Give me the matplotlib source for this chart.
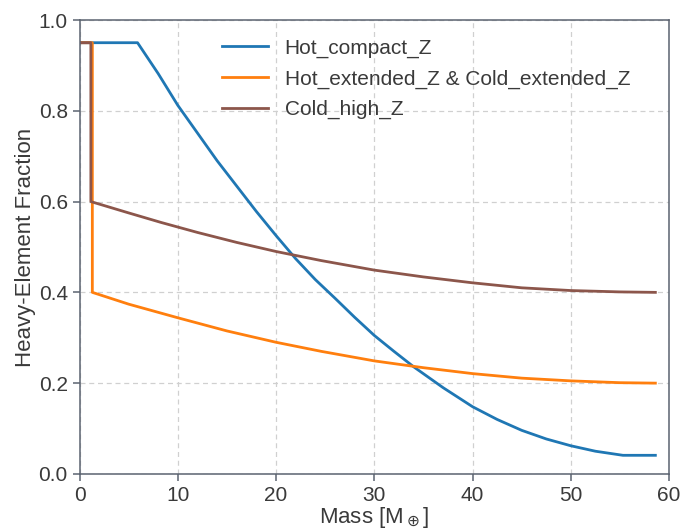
import numpy as np
import matplotlib.pyplot as plt

plt.rcParams["font.family"] = ["Liberation Sans", "DejaVu Sans"]

# masses (Earth masses) and heavy-element fractions
mass_hot_compact = [0.0, 5.9, 8.0, 10.0, 12.0, 14.0, 16.0, 18.0, 20.0, 22.0, 24.0,
                    26.0, 28.0, 30.0, 32.0, 34.0, 37.0, 40.0, 42.5, 45.0, 47.5,
                    50.0, 52.5, 55.3, 58.6]
z_hot_compact = [0.95, 0.95, 0.882, 0.812, 0.751, 0.69, 0.634, 0.578, 0.525, 0.474,
                 0.428, 0.387, 0.345, 0.305, 0.27, 0.236, 0.19, 0.148, 0.12, 0.096,
                 0.077, 0.062, 0.05, 0.041, 0.041]

mass_extended = [0.0, 1.3, 1.3, 5.0, 10.0, 15.0, 20.0, 24.6, 30.0, 35.0,
                 40.0, 45.0, 50.0, 55.0, 58.6]
z_extended = [0.95, 0.95, 0.40, 0.374, 0.344, 0.315, 0.29, 0.27, 0.249, 0.234,
              0.221, 0.211, 0.205, 0.201, 0.20]

mass_cold_high = [0.0, 1.15, 1.15, 5.0, 8.3, 12.0, 16.0, 20.0, 24.6, 30.0,
                  35.0, 40.0, 45.0, 50.0, 55.0, 58.6]
z_cold_high = [0.95, 0.95, 0.60, 0.575, 0.554, 0.532, 0.51, 0.49, 0.47, 0.449,
               0.434, 0.421, 0.41, 0.404, 0.401, 0.40]

spine_col = "#5b6370"
text_col = "#3a3a3a"

fig, ax = plt.subplots(figsize=(6.8, 5.31), dpi=100)
fig.subplots_adjust(left=0.117, right=0.984, bottom=0.1075, top=0.9623)

ax.plot(mass_hot_compact, z_hot_compact, color="#1f77b4", lw=2, label="Hot_compact_Z")
ax.plot(mass_extended, z_extended, color="#ff7f0e", lw=2,
        label="Hot_extended_Z & Cold_extended_Z")
ax.plot(mass_cold_high, z_cold_high, color="#8c564b", lw=2, label="Cold_high_Z")

ax.set_xlim(0, 60)
ax.set_ylim(0, 1)
ax.set_xticks(np.arange(0, 61, 10))
ax.set_yticks(np.linspace(0, 1, 6))
ax.grid(True, ls=(0, (4, 3)), color="#d0d0d0", lw=0.9)

for sp in ax.spines.values():
    sp.set_color(spine_col)
    sp.set_linewidth(1.1)
ax.tick_params(colors=spine_col, labelcolor=text_col, labelsize=15, length=5, width=1.1)

ax.set_xlabel(r"Mass [M$_\oplus$]", fontsize=16, color=text_col, labelpad=0)
ax.set_ylabel("Heavy-Element Fraction", fontsize=16, color=text_col, labelpad=2)

leg = ax.legend(loc="upper left", bbox_to_anchor=(0.21, 1.0), frameon=False,
                fontsize=15, handlelength=2.2, labelspacing=0.55)
for t in leg.get_texts():
    t.set_color(text_col)

plt.savefig("out.png")
